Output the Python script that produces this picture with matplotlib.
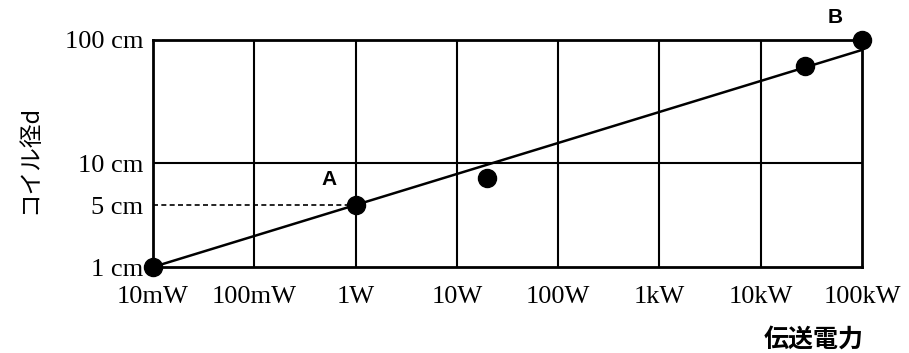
import numpy as np
import matplotlib.pyplot as plt

# data
x_ticks = [1e-2, 1e-1, 1, 1e1, 1e2, 1e3, 1e4, 1e5]
x_labels = ['10mW', '100mW', '1W', '10W', '100W', '1kW', '10kW', '100kW']
y_ticks = [1, 5, 10, 100]
y_labels = ['1 cm', '5 cm', '10 cm', '100 cm']

power_w = [0.01, 1, 20, 27500, 1e5]
diam_cm = [1, 5, 7.8, 62, 100]

fit_x = [0.01, 1e5]
fit_y = [1.0, 83]

point_a = (1, 5)
point_b = (1e5, 100)

# the original drawing is not a true log axis: the 1-10 cm decade is squeezed
log_knots = [0, np.log10(5), 1, 2]
pos_knots = [0, 62, 104, 227]


def fwd(v):
    v = np.clip(np.asarray(v, dtype=float), 1e-6, None)
    return np.interp(np.log10(v), log_knots, pos_knots)


def inv(p):
    return 10 ** np.interp(p, pos_knots, log_knots)


serif = 'Liberation Serif'
jp = ['Noto Sans CJK JP', 'DejaVu Sans']

fig = plt.figure(figsize=(9.09, 3.53), dpi=100)
ax = fig.add_axes([0.1683, 0.2436, 0.78, 0.6431])

ax.set_xscale('log')
ax.set_yscale('function', functions=(fwd, inv))
ax.set_xlim(1e-2, 1e5)
ax.set_ylim(1, 100)

# grid
for xv in x_ticks[1:-1]:
    ax.axvline(xv, color='black', lw=1.5, zorder=1)
ax.axhline(10, color='black', lw=1.5, zorder=1)

# dashed guide to point A
ax.plot([x_ticks[0], point_a[0]], [point_a[1], point_a[1]], color='black',
        lw=1.2, ls=(0, (3, 2)), zorder=1)

# fitted line and measurement points
ax.plot(fit_x, fit_y, color='black', lw=1.8, zorder=2)
ax.plot(power_w, diam_cm, 'o', color='black', ms=13, clip_on=False, zorder=3)

ax.annotate('A', point_a, xytext=(-27, 26), textcoords='offset pixels',
            fontsize=15, fontweight='bold', ha='center', va='center',
            family='Liberation Sans')
ax.annotate('B', point_b, xytext=(-27, 22), textcoords='offset pixels',
            fontsize=15, fontweight='bold', ha='center', va='center',
            family='Liberation Sans', annotation_clip=False)

ax.set_xticks(x_ticks)
ax.set_xticklabels(x_labels, family=serif, fontsize=19)
ax.set_yticks(y_ticks)
ax.set_yticklabels(y_labels, family=serif, fontsize=19)
ax.minorticks_off()
ax.tick_params(axis='y', length=0, pad=7)
ax.tick_params(axis='x', length=0, pad=14)

for s in ax.spines.values():
    s.set_linewidth(2)
    s.set_color('black')

fig.text(0.033, 0.547, 'コイル径d', rotation=90, ha='center', va='center',
         fontsize=17, family=jp)
fig.text(0.895, 0.038, '伝送電力', ha='center', va='center', fontsize=18,
         fontweight='bold', family=jp)

plt.savefig('out.png', dpi=100)
